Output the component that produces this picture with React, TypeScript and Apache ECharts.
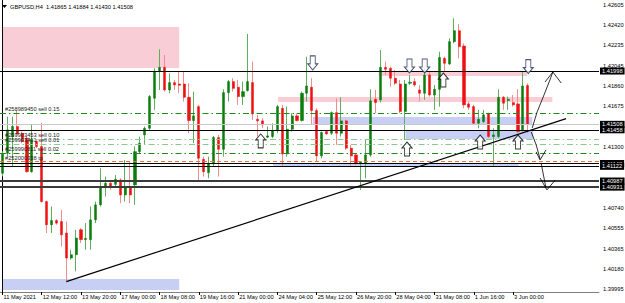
import React, { useEffect, useRef } from "react";
import * as echarts from "echarts";

const SLOTS = 122;
const opens = [1.41058,1.41242,1.41396,1.41488,1.41426,1.41381,1.41073,1.41350,1.41304,1.40798,1.40585,1.40624,1.40615,1.40509,1.40279,1.40310,1.40539,1.40448,1.40448,1.40630,1.40768,1.40942,1.40966,1.40957,1.40997,1.40859,1.40936,1.40951,1.41257,1.41411,1.41472,1.41748,1.41993,1.42032,1.41824,1.41892,1.41879,1.41879,1.41757,1.41543,1.41671,1.41187,1.41064,1.41144,1.41387,1.41279,1.41800,1.41901,1.41849,1.41763,1.41818,1.41892,1.41555,1.41540,1.41390,1.41396,1.41451,1.41656,1.41236,1.41463,1.41586,1.41543,1.41794,1.41849,1.41635,1.41218,1.41442,1.41426,1.41616,1.41426,1.41540,1.41289,1.41227,1.41150,1.41150,1.41227,1.41739,1.41733,1.42032,1.42023,1.41932,1.41879,1.41626,1.41886,1.41901,1.41824,1.41794,1.41962,1.41778,1.41830,1.42115,1.42063,1.42268,1.42369,1.42228,1.41696,1.41671,1.41518,1.41534,1.41604,1.41396,1.41396,1.41757,1.41727,1.41708,1.41696,1.41457,1.41865];
const highs = [1.41260,1.41579,1.41579,1.41641,1.41442,1.41396,1.41503,1.41365,1.41525,1.40807,1.40753,1.40636,1.40722,1.40615,1.40356,1.40539,1.40554,1.40600,1.40753,1.40798,1.41104,1.41028,1.40997,1.41043,1.41012,1.41181,1.41165,1.41304,1.41396,1.41488,1.41778,1.42023,1.42198,1.42145,1.41977,1.41916,1.41993,1.41993,1.41886,1.41809,1.41687,1.41211,1.41211,1.41402,1.41411,1.41830,1.41916,1.41932,1.41916,1.41901,1.42339,1.42084,1.41595,1.41564,1.41488,1.41518,1.41687,1.41687,1.41671,1.41610,1.41610,1.41809,1.42130,1.41932,1.41656,1.41442,1.41457,1.41626,1.41748,1.41757,1.41549,1.41319,1.41242,1.41165,1.41365,1.41830,1.41824,1.42191,1.42084,1.42038,1.42008,1.41916,1.41916,1.41962,1.41932,1.41870,1.42023,1.41993,1.41870,1.42176,1.42130,1.42299,1.42483,1.42430,1.42253,1.41717,1.41687,1.41641,1.41641,1.41616,1.41472,1.41830,1.41769,1.41763,1.41778,1.41830,1.41993,1.41884];
const lows = [1.41030,1.41211,1.41119,1.41411,1.41335,1.41064,1.41064,1.41289,1.40789,1.40509,1.40509,1.40585,1.40386,1.40062,1.40264,1.40157,1.40417,1.40356,1.40356,1.40600,1.40753,1.40844,1.40905,1.40936,1.40783,1.40798,1.40783,1.40768,1.41242,1.41319,1.41457,1.41641,1.41824,1.41809,1.41794,1.41824,1.41794,1.41717,1.41426,1.41335,1.40997,1.41028,1.41012,1.41119,1.41028,1.41211,1.41717,1.41809,1.41687,1.41687,1.41809,1.41549,1.41396,1.41472,1.41381,1.41381,1.41426,1.41119,1.41211,1.41442,1.41534,1.41534,1.41717,1.41503,1.41165,1.41196,1.41411,1.41411,1.41319,1.41396,1.41273,1.41119,1.41135,1.40905,1.41012,1.41211,1.41610,1.41708,1.41962,1.41855,1.41870,1.41610,1.41365,1.41870,1.41855,1.41717,1.41733,1.41763,1.41641,1.41671,1.41993,1.42054,1.42253,1.42115,1.41656,1.41641,1.41503,1.41472,1.41518,1.41381,1.41119,1.41381,1.41641,1.41641,1.41671,1.41426,1.41442,1.41430];
const closes = [1.41240,1.41457,1.41488,1.41420,1.41350,1.41073,1.41365,1.41304,1.40798,1.40585,1.40624,1.40600,1.40493,1.40279,1.40310,1.40463,1.40448,1.40460,1.40630,1.40768,1.40936,1.40966,1.40942,1.41003,1.40859,1.40936,1.40859,1.41257,1.41335,1.41472,1.41763,1.41993,1.42032,1.41824,1.41892,1.41870,1.41867,1.41757,1.41543,1.41586,1.41196,1.41073,1.41144,1.41387,1.41279,1.41800,1.41901,1.41839,1.41763,1.41809,1.41901,1.41604,1.41540,1.41503,1.41402,1.41451,1.41671,1.41236,1.41463,1.41586,1.41543,1.41794,1.41861,1.41635,1.41218,1.41433,1.41420,1.41616,1.41426,1.41540,1.41289,1.41218,1.41150,1.41165,1.41227,1.41724,1.41708,1.42032,1.42014,1.41932,1.41886,1.41626,1.41879,1.41895,1.41870,1.41794,1.41962,1.41778,1.41830,1.42124,1.42069,1.42268,1.42369,1.42222,1.41687,1.41665,1.41518,1.41555,1.41595,1.41396,1.41411,1.41757,1.41702,1.41739,1.41687,1.41442,1.41861,1.41508];

const timeLabels = ["11 May 2021","12 May 12:00","13 May 20:00","17 May 00:00","18 May 08:00","19 May 16:00","21 May 00:00","24 May 04:00","25 May 12:00","26 May 20:00","28 May 04:00","31 May 08:00","1 Jun 16:00","3 Jun 00:00"];
const LABEL_STEP = 8;
const priceTicks = ["1.42605","1.42420","1.42235","1.42045","1.41860","1.41675","1.41300","1.40740","1.40555","1.40365","1.40180","1.39995"];
const Y_MIN = 1.39967;
const Y_MAX = 1.42651;

const blackLevels = [1.41998, 1.41458, 1.41148, 1.41122];
const heavyLevels = [1.40987, 1.40931];
const bidPrice = 1.41508;
const orderLevels = [1.41612, 1.41371, 1.41328, 1.41242];
const orderLabels = ["#258989450 sell 0.15", "#259903453 sell 0.10", "#259903461 sell 0.01", "#259990811 sell 0.02"];
const orderStrong = [true, false, false, true];
const tpLevel = 1.41165;
const tpLabel = "#252000338 tp";

// zones: [fromBar, toBar, priceA, priceB]
const pinkZones = [[0.1, 36.0, 1.42403, 1.42026], [56.1, 112.0, 1.41760, 1.41714], [76.6, 106.9, 1.41992, 1.41952]];
const blueZones = [[0.1, 36.0, 1.40087, 1.39986], [63.2, 107.9, 1.41576, 1.41502], [82.1, 108.1, 1.41456, 1.41374], [55.1, 105.1, 1.41144, 1.41120]];

const upArrows = [[52.6, 1.41420], [82.4, 1.41346], [89.8, 1.41980], [97.3, 1.41410], [105.0, 1.41410]];
const downArrows = [[63.2, 1.42008], [82.9, 1.41980], [86.0, 1.41980], [107.1, 1.41975]];

const trendLine = [[13, 1.40062], [114.8, 1.41560]];
const sketchUp = [[107.9, 1.41475], [108.9, 1.41622], [110.3, 1.41778], [111.5, 1.41916], [112.1, 1.41989]];
const sketchUpHead = [[110.5, 1.41897], [112.1, 1.41989], [113.8, 1.41888]];
const sketchDown1 = [[107.7, 1.41438], [108.7, 1.41320], [109.5, 1.41190]];
const sketchDownHead1 = [[108.7, 1.41255], [109.5, 1.41181], [110.7, 1.41273]];
const sketchDown2 = [[109.7, 1.41154], [110.7, 1.40923]];
const sketchDownHead2 = [[109.5, 1.41015], [110.9, 1.40905], [112.6, 1.40997]];

const FONT = "'Liberation Sans', Arial, sans-serif";
const FS = 5.7;
const UP_ARROW = "path://M6,0 L12,6 L9,6 L9,14 L3,14 L3,6 L0,6 Z";
const DOWN_ARROW = "path://M3,0 L9,0 L9,8 L12,8 L6,14 L0,8 L3,8 Z";
const CLEAR = "rgba(0,0,0,0)";

function lineSeries(data: number[][], width = 1) {
  return {
    type: "line", xAxisIndex: 1, data, showSymbol: false, symbol: "none", silent: true, z: 6,
    lineStyle: { color: "#000", width }, clip: false,
  };
}

export default function App() {
  const ref = useRef<HTMLDivElement>(null);
  useEffect(() => {
    const chart = echarts.init(ref.current!, null, { renderer: "svg" });
    const slots = Array.from({ length: SLOTS }, (_, i) => String(i));
    const tickShown = (i: number) => i % LABEL_STEP === 0 && i / LABEL_STEP < timeLabels.length;
    const full = opens.map((o, i) => [o, closes[i], lows[i], highs[i]]);
    const bodies = opens.map((o, i) => [o, closes[i], Math.min(o, closes[i]), Math.max(o, closes[i])]);

    const zoneData: any[] = [];
    pinkZones.forEach((z) => zoneData.push([{ xAxis: z[0], yAxis: z[2], itemStyle: { color: "#f9cdd6" } }, { xAxis: z[1], yAxis: z[3] }]));
    blueZones.forEach((z) => zoneData.push([{ xAxis: z[0], yAxis: z[2], itemStyle: { color: "#c7cff5" } }, { xAxis: z[1], yAxis: z[3] }]));

    const levelData: any[] = [];
    levelData.push({ yAxis: bidPrice, lineStyle: { color: "#c8c8c8", width: 1, type: "solid" } });
    orderLevels.forEach((p, i) =>
      levelData.push({
        yAxis: p,
        lineStyle: { color: orderStrong[i] ? "#1e8a1e" : "#8cc98c", width: 1, type: [6, 3, 1.5, 3] },
        label: { show: true, position: "insideStartTop", formatter: orderLabels[i], distance: 1, fontSize: FS, fontFamily: FONT, color: "#222", padding: [0, 0, 0, 4] },
      })
    );
    levelData.push({
      yAxis: tpLevel,
      lineStyle: { color: "#e8743b", width: 1, type: [4, 3] },
      label: { show: true, position: "insideStartTop", formatter: tpLabel, distance: 1, fontSize: FS, fontFamily: FONT, color: "#222", padding: [0, 0, 0, 4] },
    });
    blackLevels.forEach((p) => levelData.push({ yAxis: p, lineStyle: { color: "#000", width: 1, type: "solid" } }));
    heavyLevels.forEach((p) => levelData.push({ yAxis: p, lineStyle: { color: "#3a3a3a", width: 2, type: "solid" } }));

    const tickLabelData = priceTicks.map((t) => ({
      yAxis: parseFloat(t),
      lineStyle: { color: CLEAR, width: 0 },
      label: { show: true, position: "end", formatter: t, distance: 4, fontSize: FS, fontFamily: FONT, color: "#000" },
    }));
    const tickMarkData = priceTicks.map((t) => [
      { coord: [SLOTS - 0.5, parseFloat(t)] },
      { coord: [SLOTS - 0.5 + 0.55, parseFloat(t)] },
    ]);
    const boxPrices = [...blackLevels, bidPrice, ...heavyLevels];
    const boxData = boxPrices.map((p) => ({
      yAxis: p,
      lineStyle: { color: CLEAR, width: 0 },
      label: { show: true, position: "end", formatter: p.toFixed(5), distance: 1, fontSize: FS, fontFamily: FONT, color: "#fff", backgroundColor: "#000", padding: [1, 2, 0, 2] },
    }));

    const header = `GBPUSD,H4  ${opens[opens.length - 1].toFixed(5)} ${highs[highs.length - 1].toFixed(5)} ${lows[lows.length - 1].toFixed(5)} ${closes[closes.length - 1].toFixed(5)}`;

    chart.setOption({
      animation: false,
      backgroundColor: "#fff",
      grid: { left: -1.3, top: 0, width: 600.3, height: 292 },
      xAxis: [
        {
          type: "category", data: slots, boundaryGap: true,
          axisLine: { show: true, lineStyle: { color: "#808080", width: 1 } },
          axisTick: { show: true, interval: (i: number) => tickShown(i), alignWithLabel: true, length: 3, lineStyle: { color: "#000" } },
          axisLabel: {
            interval: (i: number) => tickShown(i),
            formatter: (v: string) => timeLabels[parseInt(v, 10) / LABEL_STEP] || "",
            align: "left", fontSize: FS, fontFamily: FONT, color: "#000", margin: 2, padding: [0, 0, 0, 1],
          },
          splitLine: { show: false },
        },
        { type: "value", min: -0.5, max: SLOTS - 0.5, show: false },
      ],
      yAxis: {
        type: "value", position: "right", min: Y_MIN, max: Y_MAX, scale: true,
        axisLine: { show: true, lineStyle: { color: "#000", width: 1 } },
        axisLabel: { show: false }, axisTick: { show: false }, splitLine: { show: false },
      },
      graphic: [
        { type: "polygon", shape: { points: [[2, 5], [7, 5], [4.5, 8]] }, style: { fill: "#000" } },
        { type: "text", x: 10, y: 3.5, style: { text: header, fontSize: FS, fontFamily: FONT, fill: "#000" } },
      ],
      series: [
        { type: "line", xAxisIndex: 1, data: [], z: 1, silent: true, markArea: { silent: true, precision: 6, data: zoneData } },
        {
          type: "candlestick", data: full, barWidth: 1, z: 2, silent: true,
          itemStyle: { color: "#5eae5e", color0: "#f28c8c", borderColor: "#5eae5e", borderColor0: "#f28c8c", borderWidth: 1 },
        },
        {
          type: "candlestick", data: bodies, barWidth: 2.6, z: 3, silent: true,
          itemStyle: { color: "#0b7d0b", color0: "#ee1111", borderColor: "#0b7d0b", borderColor0: "#ee1111", borderWidth: 0.5 },
        },
        {
          type: "line", xAxisIndex: 1, data: [], z: 4, silent: true,
          markLine: { silent: true, precision: 6, symbol: ["none", "none"], label: { show: false }, data: levelData },
        },
        lineSeries(trendLine, 1.2),
        lineSeries(sketchUp, 0.8),
        lineSeries(sketchUpHead, 0.8),
        lineSeries(sketchDown1, 0.8),
        lineSeries(sketchDownHead1, 0.8),
        lineSeries(sketchDown2, 0.8),
        lineSeries(sketchDownHead2, 0.8),
        {
          type: "scatter", xAxisIndex: 1, data: upArrows, symbol: UP_ARROW, symbolSize: [10, 14], symbolOffset: [0, 7], z: 7, silent: true,
          itemStyle: { color: "#fff", borderColor: "#000", borderWidth: 1 },
        },
        {
          type: "scatter", xAxisIndex: 1, data: downArrows, symbol: DOWN_ARROW, symbolSize: [10, 14], symbolOffset: [0, -7], z: 7, silent: true,
          itemStyle: { color: "#fff", borderColor: "#1c2a55", borderWidth: 1 },
        },
        {
          type: "line", xAxisIndex: 1, data: [], z: 8, silent: true,
          markLine: { silent: true, precision: 6, symbol: ["none", "none"], data: tickLabelData },
        },
        {
          type: "line", xAxisIndex: 1, data: [], z: 8, silent: true,
          markLine: { silent: true, precision: 6, symbol: ["none", "none"], label: { show: false }, lineStyle: { color: "#000", width: 1, type: "solid" }, data: tickMarkData },
        },
        {
          type: "line", xAxisIndex: 1, data: [], z: 9, silent: true,
          markLine: { silent: true, precision: 6, symbol: ["none", "none"], data: boxData },
        },
      ],
    });
    return () => chart.dispose();
  }, []);
  return <div ref={ref} style={{ position: "fixed", left: 0, top: 0, width: 625, height: 303, background: "#fff" }} />;
}
